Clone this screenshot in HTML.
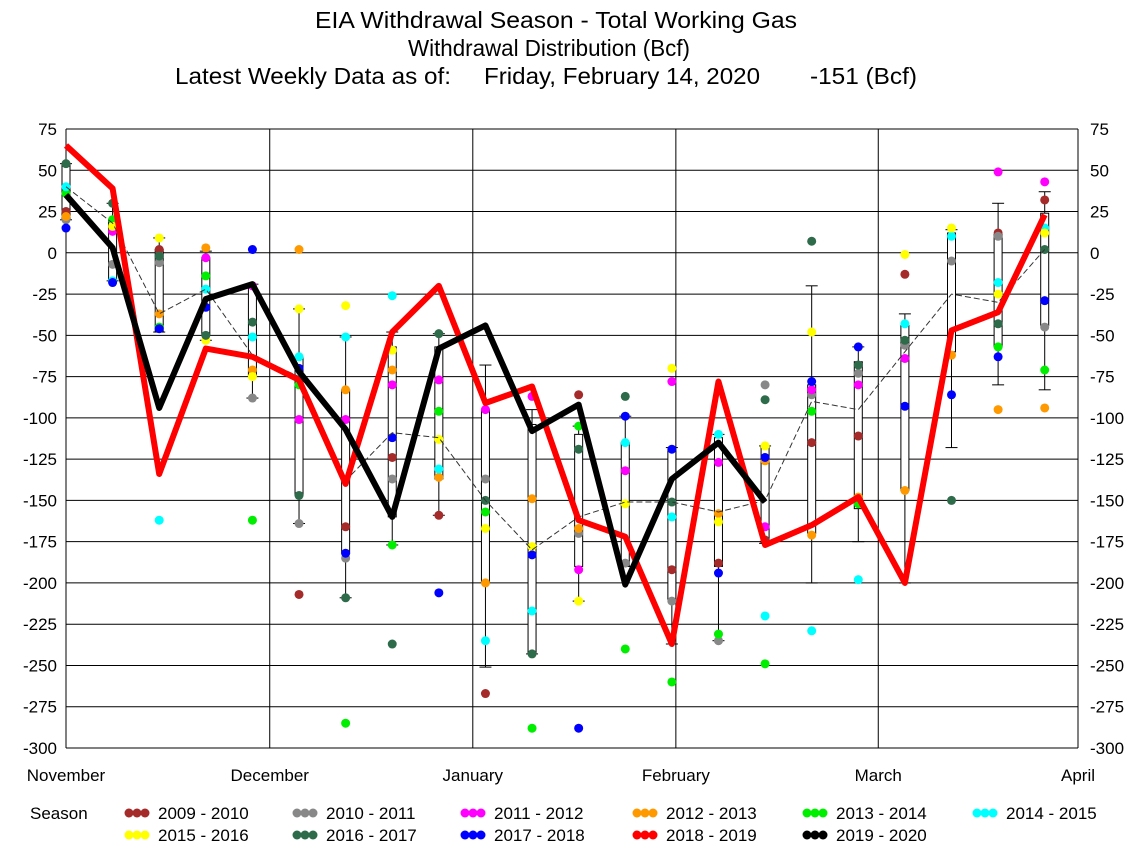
<!DOCTYPE html>
<html><head><meta charset="utf-8"><style>
body{margin:0;background:#fff;}
svg{font-family:"Liberation Sans",sans-serif;}
</style></head><body>
<svg id="c" width="1136" height="856"></svg>
<script>
const months=["November","December","January","February","March","April"];
const monthDays=[0,30.6,61.1,91.6,122,152];
const yTicks=[75,50,25,0,-25,-50,-75,-100,-125,-150,-175,-200,-225,-250,-275,-300];
const s0910=[25,20,2,null,null,-207,-166,-124,-159,-267,null,-86,null,-192,-188,-174,-115,-111,-13,null,12,32];
const s1011=[20,-7,-6,null,-88,-164,-185,-137,null,-137,null,-170,-188,-211,-235,-80,-86,-73,-56,-5,10,-45];
const s1112=[null,13,null,-3,-20,-101,-101,-80,-77,-95,-87,-192,-132,-78,-127,-166,-83,-80,-64,null,49,43];
const s1213=[22,null,-37,3,-71,2,-83,-71,-136,-200,-149,-167,null,null,-158,-126,-171,-148,-144,-62,-95,-94];
const s1314=[36,20,-45,-14,-162,-80,-285,-177,-96,-157,-288,-105,-240,-260,-231,-249,-96,-152,null,null,-57,-71];
const s1415=[40,-17,-162,-22,-51,-63,-51,-26,-131,-235,-217,null,-115,-160,-110,-220,-229,-198,-43,10,-18,15];
const s1516=[null,16,9,-53,-75,-34,-32,-59,-113,-167,-178,-211,-152,-70,-163,-117,-48,null,-1,15,-25,12];
const s1617=[54,30,-2,-50,-42,-147,-209,-237,-49,-150,-243,-119,-87,-151,null,-89,7,-68,-53,-150,-43,2];
const s1718=[15,-18,-46,-33,2,-70,-182,-112,-206,null,-183,-288,-99,-119,-194,-124,-78,-57,-93,-86,-63,-29];
const s1819=[65,39,-134,-58,-63,-77,-140,-48,-20,-91,-81,-162,-172,-237,-78,-177,-165,-148,-200,-47,-36,23];
const s1920=[35,3,-94,-28,-19,-72,-107,-160,-58,-44,-108,-92,-201,-137,-115,-151];
const avg=[40,18,-37,-22,-62,-75,-138,-109,-112,-150,-180,-160,-151,-151,-157,-150,-90,-95,-60,-25,-30,2];
const boxHi=[54,20,2,-3,-21,-63,-83,-57,-57,-95,-104,-110,-115,-120,-112,-117,-80,-66,-44,12,11,24];
const boxLo=[20,-17,-48,-50,-75,-147,-182,-160,-137,-200,-243,-190,-190,-210,-190,-176,-170,-155,-144,-60,-57,-44];
const whiskHi=[54,30,9,1,-19,-34,-51,-48,-49,-68,-95,-105,-99,-118,-110,-117,-20,-57,-37,14,30,37];
const whiskLo=[20,-17,-48,-53,-88,-164,-209,-177,-159,-251,-243,-211,-190,-237,-235,-176,-200,-175,-200,-118,-80,-83];

const svg=document.getElementById('c');const NS='http://www.w3.org/2000/svg';
const X0=66,X1=1078,Y0=129,Y1=748;
const xDay=d=>X0+d*(X1-X0)/152;
const xW=i=>xDay(7*i);
const yV=v=>Y0+(75-v)*(Y1-Y0)/375;
function el(t,a,p){const e=document.createElementNS(NS,t);for(const k in a)e.setAttribute(k,a[k]);(p||svg).appendChild(e);return e;}
function txt(x,y,s,a){const e=el('text',Object.assign({x:x,y:y,'font-size':17,fill:'#000'},a||{}));e.textContent=s;return e;}

const t1=txt(315,28,"EIA Withdrawal Season - Total Working Gas",{'font-size':23,textLength:482,lengthAdjust:'spacingAndGlyphs'});

const t2=txt(408,56,"Withdrawal Distribution (Bcf)",{'font-size':23,textLength:282,lengthAdjust:'spacingAndGlyphs'});

const t3a=txt(175,84,"Latest Weekly Data as of:",{'font-size':23,textLength:276,lengthAdjust:'spacingAndGlyphs'});

const t3b=txt(484,84,"Friday, February 14, 2020",{'font-size':23,textLength:276,lengthAdjust:'spacingAndGlyphs'});

const t3c=txt(810,84,"-151 (Bcf)",{'font-size':23,textLength:107,lengthAdjust:'spacingAndGlyphs'});


yTicks.forEach(v=>{
  const g=el('line',{x1:X0,x2:X1,y1:yV(v),y2:yV(v),stroke:'#000','stroke-width':1});
  
  const a=txt(57,yV(v)+6,String(v),{'text-anchor':'end'});
  
  const b=txt(1090,yV(v)+6,String(v));
  
});
months.forEach((m,i)=>{
  const x=xDay(monthDays[i]);
  const l=el('line',{x1:x,x2:x,y1:Y0,y2:Y1,stroke:'#000','stroke-width':1});
  
  const t=txt(x,781,m,{'text-anchor':'middle'});
  
});

boxHi.forEach((h,i)=>{
  const x=xW(i);
  const w=el('line',{x1:x,x2:x,y1:yV(whiskHi[i]),y2:yV(whiskLo[i]),stroke:'#000','stroke-width':1});
  
  [whiskHi[i],whiskLo[i]].forEach(v=>{const c=el('line',{x1:x-6,x2:x+6,y1:yV(v),y2:yV(v),stroke:'#000'});
    });
  const r=el('rect',{x:x-4,y:yV(h),width:8,height:yV(boxLo[i])-yV(h),fill:'#fff',stroke:'#000','stroke-width':1});
  
});

const seasons=[["2009 - 2010","#a52a2a",s0910],["2010 - 2011","#888888",s1011],["2011 - 2012","#ff00ff",s1112],["2012 - 2013","#ff9900",s1213],["2013 - 2014","#00ee00",s1314],["2014 - 2015","#00ffff",s1415],["2015 - 2016","#ffff00",s1516],["2016 - 2017","#2e6b4a",s1617],["2017 - 2018","#0000ff",s1718]];
seasons.forEach(s=>{
  s[2].forEach((v,i)=>{if(v===null)return;
    const d=el('circle',{cx:xW(i),cy:yV(v),r:4.5,fill:s[1]});
    });
});

function line(arr,color,w,dash,name){
  const pts=arr.map((v,i)=>xW(i)+','+yV(v)).join(' ');
  const p=el('polyline',{points:pts,fill:'none',stroke:color,'stroke-width':w,'stroke-linejoin':'round'});
  if(dash)p.setAttribute('stroke-dasharray',dash);
  
}
line(avg,'#333',1,'6,3','average-line');
line(s1819,'#ff0000',6,null,'line-2018-2019');
line(s1920,'#000',6,null,'line-2019-2020');

const lg=txt(30,819,"Season");
const legendAll=seasons.map(s=>[s[0],s[1]]).concat([["2018 - 2019","#ff0000"],["2019 - 2020","#000"]]);
const colsX=[125,293,461,633,803,973];
legendAll.forEach((s,k)=>{
  const row=k<6?0:1, col=k<6?k:k-6;
  const x=colsX[col], y=row?835:813;
  const g=el('g',{});
  [0,8,16].forEach(o=>el('circle',{cx:x+4+o,cy:y,r:4.5,fill:s[1]},g));
  const t=el('text',{x:x+33,y:y+6,'font-size':17},g);t.textContent=s[0];
});
</script>
</body></html>
